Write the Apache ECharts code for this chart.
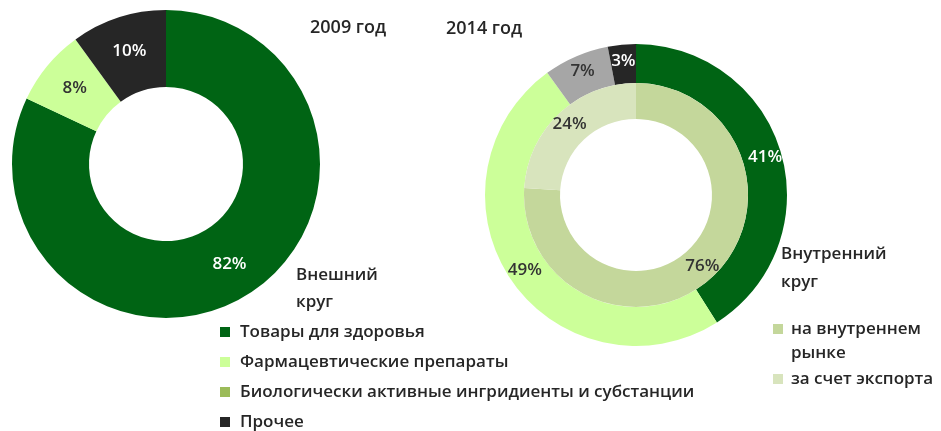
<!DOCTYPE html>
<html><head><meta charset="utf-8">
<script src="https://cdn.jsdelivr.net/npm/echarts@6/dist/echarts.min.js"></script>
<style>html,body{margin:0;padding:0;background:#fff}#c{width:941px;height:431px}</style>
</head><body><div id="c"></div>
<script>
// Categories (outer ring / left donut)
var categories = ['Товары для здоровья', 'Фармацевтические препараты', 'Биологически активные ингридиенты и субстанции', 'Прочее'];
var values2009 = [82, 8, 0, 10];
var values2014 = [41, 49, 7, 3];
// Inner ring 2014
var innerCategories = ['на внутреннем\nрынке', 'за счет экспорта'];
var innerValues = [76, 24];
var titles = ['2009 год', '2014 год'];

var FONT = 'Open Sans';
var sliceColors2009 = ['#006414', '#CCFF99', '#9BBB59', '#262626'];
var sliceColors2014 = ['#006414', '#CCFF99', '#A6A6A6', '#262626'];
var labelColors = ['#ffffff', '#333333', '#333333', '#ffffff'];
var legendColors = ['#006414', '#CCFF99', '#9BBB59', '#262626'];
var innerColors = ['#C4D79B', '#D8E4BD'];

function makeData(vals, cols) {
  var out = [];
  for (var i = 0; i < categories.length; i++) {
    if (vals[i] <= 0) continue;
    out.push({name: categories[i], value: vals[i], itemStyle: {color: cols[i]},
      label: {color: labelColors[i]}});
  }
  return out;
}
var innerData = innerValues.map(function (v, i) {
  return {name: innerCategories[i], value: v, itemStyle: {color: innerColors[i]}};
});

var labelBase = {show: true, position: 'inside', formatter: '{c}%', fontFamily: FONT, fontSize: 17, fontWeight: 600, color: '#333'};
var txt = {fontFamily: FONT, fontWeight: 600, color: '#262626'};
function ts(extra) { return Object.assign({}, txt, extra); }

var chart = echarts.init(document.getElementById('c'), null, {renderer: 'canvas'});
chart.setOption({
  animation: false,
  backgroundColor: '#ffffff',
  textStyle: {fontFamily: FONT},
  title: [
    {text: titles[0], left: 305, top: 14, textStyle: ts({fontSize: 18})},
    {text: titles[1], left: 441, top: 15, textStyle: ts({fontSize: 18})},
    {text: 'Внешний\nкруг', left: 291, top: 257, textStyle: ts({fontSize: 17, lineHeight: 27})},
    {text: 'Внутренний\nкруг', left: 776, top: 235, textStyle: ts({fontSize: 17, lineHeight: 28})},
    {text: innerCategories[0].split('\n')[1], left: 791, top: 343, padding: 0, textStyle: ts({fontSize: 17, lineHeight: 20})}
  ],
  legend: [
    {
      orient: 'vertical', left: 220, top: 322, padding: 0, height: 115,
      itemWidth: 10, itemHeight: 10, itemGap: 10,
      icon: 'rect', selectedMode: false,
      textStyle: ts({fontSize: 17, lineHeight: 20, padding: [0, 0, 0, 5]}),
      data: categories.map(function (n, i) { return {name: n, itemStyle: {color: legendColors[i]}}; })
    },
    {
      orient: 'vertical', left: 773, top: 319, padding: 0, height: 110,
      itemWidth: 10, itemHeight: 10, itemGap: 30,
      icon: 'rect', selectedMode: false,
      formatter: function (name) { return name.split('\n')[0]; },
      textStyle: ts({fontSize: 17, lineHeight: 20, padding: [0, 0, 0, 3]}),
      data: innerCategories.map(function (n, i) { return {name: n, itemStyle: {color: innerColors[i]}}; })
    }
  ],
  series: [
    {
      type: 'pie', center: [166, 164], radius: [77, 154], startAngle: 90, clockwise: true,
      label: labelBase, labelLine: {show: false}, emphasis: {disabled: true},
      data: makeData(values2009, sliceColors2009)
    },
    {
      type: 'pie', center: [636, 195], radius: [112, 151], startAngle: 90, clockwise: true,
      label: labelBase, labelLine: {show: false}, emphasis: {disabled: true},
      data: makeData(values2014, sliceColors2014)
    },
    {
      type: 'pie', center: [636, 195], radius: [76, 112], startAngle: 90, clockwise: true,
      label: labelBase, labelLine: {show: false}, emphasis: {disabled: true},
      data: innerData
    }
  ]
});
</script></body></html>
